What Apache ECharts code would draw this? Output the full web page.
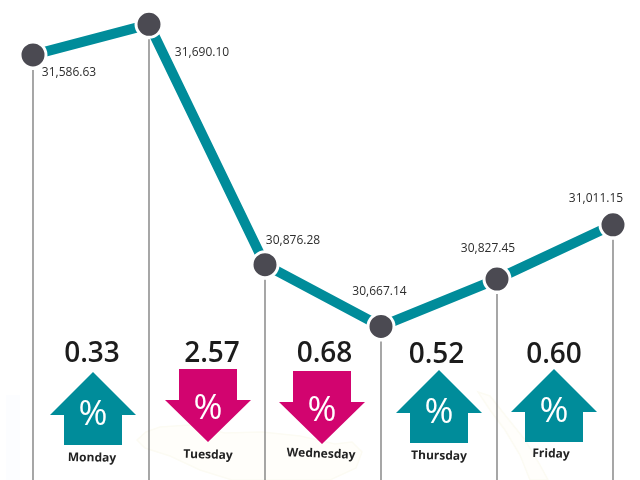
<!DOCTYPE html>
<html><head><meta charset="utf-8">
<style>html,body{margin:0;padding:0;background:#fff}#c{width:640px;height:480px}</style>
<script src="https://cdn.jsdelivr.net/npm/echarts@6/dist/echarts.min.js"></script>
</head><body><div id="c"></div>
<script>
const days = ['Monday','Tuesday','Wednesday','Thursday','Friday','Saturday'];
const closes = [31586.63,31690.10,30876.28,30667.14,30827.45,31011.15];
const changes = ['0.33','2.57','0.68','0.52','0.60'];
const directions = ['up','down','down','up','up'];

// layout only
const labelOffsets = [[36,18],[53,28],[28,-24],[-1.5,-35],[-9,-30],[-17,-26]];
const arrowDx = [2,1,-1,0,-1];
const arrowTops = [372,369,371,370,369];
const changeDx = [-1,4,2.5,-2.5,0];
const changeYs = [354.5,354.5,354.5,355.5,355.5];
const dayDx = [-1,0,-1,0,-3];
const dayYs = [458,455,454,456,454];
const dayRot = [-1,-1.5,-2,-1,-1.5];
const TEAL='#008c9a', PINK='#d2046f', DARK='#4b4a52';
const FONT='"Open Sans",sans-serif';

const chart = echarts.init(document.getElementById('c'),null,{renderer:'canvas'});
chart.setOption({
  animation:false,
  backgroundColor:'#fff',
  graphic:[
    {type:'polygon',z:-1,silent:true,shape:{points:[[137,440],[146,432],[160,427],[190,425],[225,433],[262,432],[300,436],[335,444],[352,442],[362,452],[356,468],[330,480],[232,480],[200,470],[170,456],[145,448]]},
     style:{fill:'#fffefa',stroke:'#fcfbf3',lineWidth:1.5}},
    {type:'polygon',z:-1,silent:true,shape:{points:[[478,392],[490,396],[505,415],[525,440],[540,465],[548,480],[530,480],[520,455],[505,430],[490,410]]},
     style:{fill:'#fffefb',stroke:'#fcfbf3',lineWidth:1.5}},
    {type:'rect',z:-1,silent:true,shape:{x:6,y:395,width:14,height:85},style:{fill:'#fcfdff'}}
  ],
  grid:{left:33,right:27,top:0,bottom:0},
  xAxis:{type:'category',data:days,boundaryGap:false,show:false},
  yAxis:{type:'value',min:30147,max:31772.5,show:false},
  series:[
    {type:'custom',z:1,silent:true,clip:false,
     data:closes.map((v,i)=>[i,v]),
     renderItem(p,api){
       const a=api.coord([api.value(0),api.value(1)]);
       return {type:'line',shape:{x1:a[0],y1:a[1]+15,x2:a[0],y2:480},
         style:{stroke:'#5e5e5e',lineWidth:1.1}};
     }},
    {type:'line',z:3,data:closes,symbol:'circle',symbolSize:26,showSymbol:true,
     lineStyle:{color:TEAL,width:10,cap:'butt'},
     itemStyle:{color:DARK,borderColor:'#fff',borderWidth:3},
     label:{show:true,position:'inside',color:'#2d2d2d',fontFamily:FONT,fontSize:12,
       formatter:p=>p.value.toLocaleString('en-US',{minimumFractionDigits:2})},
     labelLayout:p=>({dx:labelOffsets[p.dataIndex][0],dy:labelOffsets[p.dataIndex][1]})},
    {type:'custom',z:4,silent:true,clip:false,
     data:changes.map((v,i)=>[i,30400]),
     renderItem(p,api){
       const i=api.value(0);
       const a=api.coord([i,api.value(1)]), b=api.coord([i+1,api.value(1)]);
       const mid=(a[0]+b[0])/2, cx=mid+arrowDx[i], t=arrowTops[i], up=directions[i]==='up';
       const pts= up
         ? [[cx,t],[cx+43,t+43],[cx+29,t+43],[cx+29,t+73],[cx-29,t+73],[cx-29,t+43],[cx-43,t+43]]
         : [[cx-29,t],[cx+29,t],[cx+29,t+31],[cx+43,t+31],[cx,t+73],[cx-43,t+31],[cx-29,t+31]];
       const txt=(s,x,y,size,weight,color,rot)=>({type:'text',x,y,rotation:(rot||0)*Math.PI/180,
         style:{text:s,fontFamily:FONT,fontSize:size,fontWeight:weight,fill:color,align:'center',verticalAlign:'middle'}});
       return {type:'group',children:[
         {type:'polygon',shape:{points:pts},style:{fill:up?TEAL:PINK}},
         txt('%',cx,t+(up?43:40),35,400,'#fff'),
         txt(changes[i],cx+changeDx[i],changeYs[i],28,600,'#1c1c1c'),
         txt(days[i],cx+dayDx[i],dayYs[i],12,700,'#222',dayRot[i])
       ]};
     }}
  ]
});
</script></body></html>
